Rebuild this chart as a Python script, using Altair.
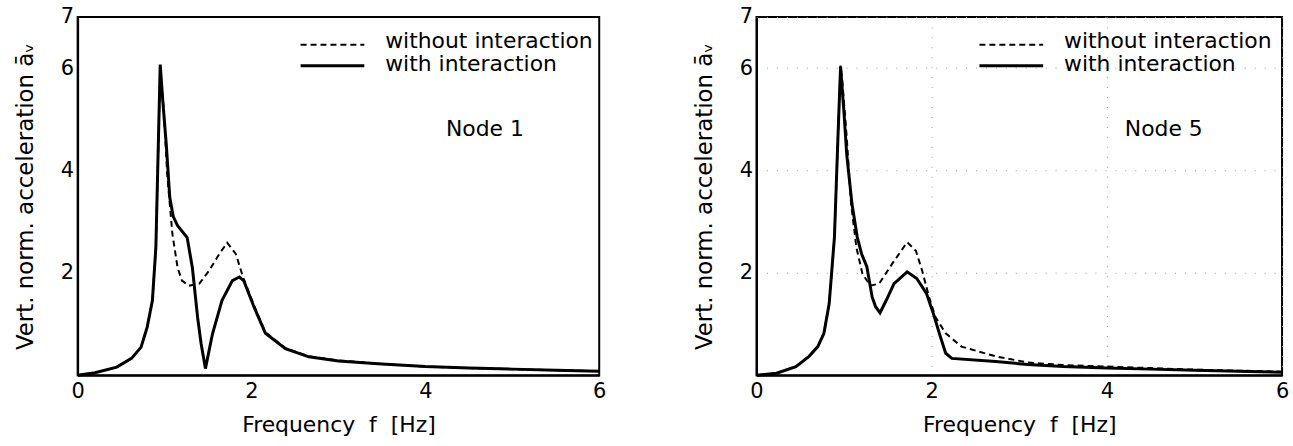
import altair as alt
import pandas as pd

# ---------------- data ----------------
# Node 1, with interaction (solid)
n1_with_f = [0, 0.2, 0.45, 0.62, 0.73, 0.80, 0.86, 0.90, 0.95, 0.98, 1.02, 1.06, 1.10, 1.15, 1.26,
             1.32, 1.38, 1.42, 1.47, 1.55, 1.66, 1.78, 1.86, 1.91, 2.03, 2.16, 2.39, 2.66, 3.0, 3.5,
             4.0, 4.5, 5.0, 5.5, 6.0]
n1_with_a = [0.0, 0.05, 0.16, 0.33, 0.55, 0.94, 1.46, 2.5, 6.07, 5.35, 4.5, 3.47, 3.1, 2.92, 2.69,
             2.1, 1.13, 0.62, 0.13, 0.8, 1.46, 1.85, 1.92, 1.85, 1.33, 0.82, 0.52, 0.36, 0.28, 0.22,
             0.17, 0.14, 0.12, 0.1, 0.08]
# Node 1, without interaction (dashed)
n1_wo_f = [0, 0.2, 0.45, 0.62, 0.73, 0.80, 0.86, 0.90, 0.95, 0.99, 1.03, 1.09, 1.15, 1.20, 1.28,
           1.40, 1.51, 1.63, 1.72, 1.82, 1.90, 2.03, 2.16, 2.39, 2.66, 3.0, 3.5, 4.0, 4.5, 5.0,
           5.5, 6.0]
n1_wo_a = [0.0, 0.05, 0.16, 0.33, 0.55, 0.94, 1.46, 2.5, 6.02, 5.2, 3.93, 2.76, 2.1, 1.85, 1.75,
           1.79, 2.04, 2.37, 2.59, 2.37, 1.93, 1.36, 0.84, 0.53, 0.37, 0.29, 0.22, 0.17, 0.14, 0.12,
           0.1, 0.08]
# Node 5, with interaction (solid)
n5_with_f = [0, 0.23, 0.45, 0.60, 0.70, 0.77, 0.83, 0.89, 0.93, 0.96, 1.00, 1.03, 1.09, 1.15, 1.20,
             1.26, 1.32, 1.36, 1.41, 1.48, 1.57, 1.72, 1.83, 1.94, 2.02, 2.10, 2.16, 2.23, 2.73,
             3.1, 3.5, 4.0, 4.5, 5.0, 5.5, 6.0]
n5_with_a = [0.0, 0.04, 0.17, 0.37, 0.56, 0.82, 1.4, 2.7, 4.65, 6.03, 5.1, 4.32, 3.35, 2.7, 2.37,
             2.12, 1.53, 1.34, 1.22, 1.46, 1.79, 2.02, 1.89, 1.6, 1.2, 0.75, 0.43, 0.33, 0.27,
             0.21, 0.17, 0.14, 0.12, 0.1, 0.08, 0.06]
# Node 5, without interaction (dashed)
n5_wo_f = [0, 0.23, 0.45, 0.60, 0.70, 0.77, 0.83, 0.89, 0.93, 0.96, 0.98, 1.03, 1.08, 1.14, 1.21,
           1.30, 1.40, 1.55, 1.72, 1.82, 1.89, 1.97, 2.04, 2.16, 2.34, 2.73, 3.1, 3.5, 4.0, 4.5,
           5.0, 5.5, 6.0]
n5_wo_a = [0.0, 0.04, 0.17, 0.37, 0.56, 0.82, 1.4, 2.7, 4.65, 6.05, 5.74, 4.65, 3.35, 2.5, 1.98,
           1.75, 1.79, 2.18, 2.6, 2.43, 2.05, 1.53, 1.15, 0.82, 0.56, 0.37, 0.25, 0.2, 0.17, 0.14,
           0.11, 0.09, 0.07]

legend_labels = ["without interaction", "with interaction"]
node_labels = ["Node 1", "Node 5"]
x_ticks = [0, 2, 4, 6]
y_ticks = [2, 4, 6, 7]
x_title = "Frequency\u00a0\u00a0f\u00a0\u00a0[Hz]"
y_title = "Vert. norm. acceleration āᵥ"

FONT = "DejaVu Sans"
FS = 22
LFS = 21
H = 360


def panel(f_with, a_with, f_wo, a_wo, node, grid, width):
    df_with = pd.DataFrame({"f": f_with, "a": a_with})
    df_wo = pd.DataFrame({"f": f_wo, "a": a_wo})
    xs = alt.Scale(domain=[0, 6], nice=False, zero=False)
    ys = alt.Scale(domain=[0, 7], nice=False)
    common = dict(grid=grid, gridDash=[1, 9], gridColor="#9a9a9a", tickSize=0,
                  labelFlush=False, domainColor="black", domainWidth=2,
                  labelFont=FONT, labelFontSize=LFS, labelColor="black",
                  titleFont=FONT, titleFontWeight="normal", titleColor="black")
    xax = alt.Axis(values=x_ticks, format="d", title=x_title, titleFontSize=FS,
                   labelPadding=5, titlePadding=13, **common)
    yax = alt.Axis(values=y_ticks, format="d", title=y_title, titleFontSize=23,
                   labelPadding=4, titlePadding=23, **common)
    solid = alt.Chart(df_with).mark_line(color="black", strokeWidth=3).encode(
        x=alt.X("f:Q", scale=xs, axis=xax),
        y=alt.Y("a:Q", scale=ys, axis=yax),
    )
    dashed = alt.Chart(df_wo).mark_line(color="black", strokeWidth=2, strokeDash=[6, 4]).encode(
        x=alt.X("f:Q", scale=xs), y=alt.Y("a:Q", scale=ys)
    )
    leg_dash = alt.Chart(pd.DataFrame({"l": [legend_labels[0]]})).mark_rule(
        color="black", strokeWidth=2, strokeDash=[6, 4]).encode(
        x=alt.value(224), x2=alt.value(288), y=alt.value(28))
    leg_solid = alt.Chart(pd.DataFrame({"l": [legend_labels[1]]})).mark_rule(
        color="black", strokeWidth=3).encode(
        x=alt.value(224), x2=alt.value(288), y=alt.value(49))
    leg_t1 = alt.Chart(pd.DataFrame({"l": [legend_labels[0]]})).mark_text(
        font=FONT, fontSize=FS, align="left", baseline="middle", color="black").encode(
        x=alt.value(309), y=alt.value(24), text="l:N")
    leg_t2 = alt.Chart(pd.DataFrame({"l": [legend_labels[1]]})).mark_text(
        font=FONT, fontSize=FS, align="left", baseline="middle", color="black").encode(
        x=alt.value(309), y=alt.value(47), text="l:N")
    node_t = alt.Chart(pd.DataFrame({"l": [node]})).mark_text(
        font=FONT, fontSize=FS, align="left", baseline="middle", color="black").encode(
        x=alt.value(370), y=alt.value(113), text="l:N")
    return alt.layer(dashed, solid, leg_dash, leg_solid, leg_t1, leg_t2, node_t).properties(
        width=width, height=H)


left = panel(n1_with_f, n1_with_a, n1_wo_f, n1_wo_a, node_labels[0], False, 524)
right = panel(n5_with_f, n5_with_a, n5_wo_f, n5_wo_a, node_labels[1], True, 528)

chart = alt.hconcat(left, right, spacing=85).properties(
    padding={"left": 13, "top": 4, "right": 3, "bottom": 0}, background="white"
).configure_view(stroke="black", strokeWidth=2)

chart.save("out.html", embed_options={"renderer": "svg", "actions": False})
